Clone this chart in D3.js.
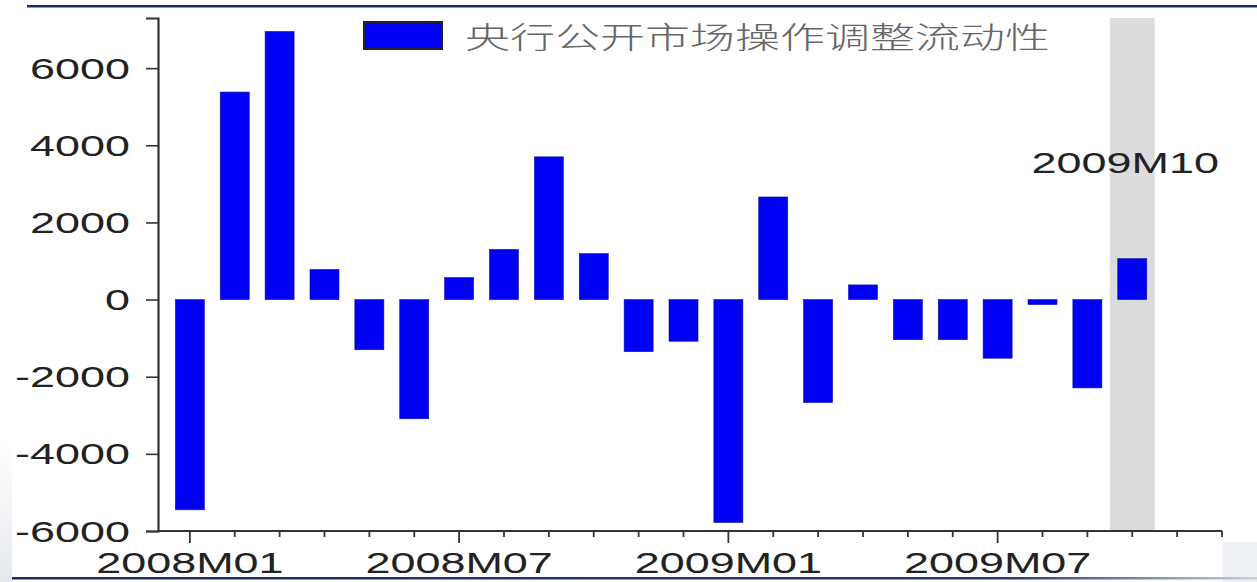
<!DOCTYPE html>
<html>
<head>
<meta charset="utf-8">
<script src="https://cdn.jsdelivr.net/npm/d3@7"></script>
<style>
  html, body { margin: 0; padding: 0; background: #ffffff; }
  svg { display: block; }
</style>
</head>
<body>
<svg id="chart" width="1257" height="582"></svg>
<script>
// Monthly liquidity adjusted through central-bank open market operations (亿元)
const months = ["2008M01","2008M02","2008M03","2008M04","2008M05","2008M06",
                "2008M07","2008M08","2008M09","2008M10","2008M11","2008M12",
                "2009M01","2009M02","2009M03","2009M04","2009M05","2009M06",
                "2009M07","2009M08","2009M09","2009M10"];
const values = [-5450, 5380, 6950, 780, -1300, -3090,
                570, 1300, 3700, 1190, -1350, -1080,
                -5780, 2660, -2670, 380, -1040, -1040,
                -1520, -130, -2290, 1060];
const yTicks = [-6000, -4000, -2000, 0, 2000, 4000, 6000];
const xTickLabels = ["2008M01", "2008M07", "2009M01", "2009M07"];
const seriesName = "央行公开市场操作调整流动性";
const highlightMonth = "2009M10";

const svg = d3.select("#chart");
const stretch = 1.55;           // wide lettering of the original figure
const latin = "'Liberation Sans', Arial, sans-serif";

// slide frame
const defs = svg.append("defs");
const side = defs.append("linearGradient").attr("id", "sideFade")
  .attr("x1", 0).attr("y1", 0).attr("x2", 0).attr("y2", 1);
side.append("stop").attr("offset", "0%").attr("stop-color", "#ffffff");
side.append("stop").attr("offset", "100%").attr("stop-color", "#e6e9ee");
svg.append("rect").attr("x", 0).attr("y", 440).attr("width", 12).attr("height", 142)
  .attr("fill", "url(#sideFade)");
svg.append("rect").attr("x", 1223).attr("y", 542).attr("width", 34).attr("height", 40)
  .attr("fill", "#eef0f4");
const grad = defs.append("linearGradient").attr("id", "frameLine");
grad.append("stop").attr("offset", "0%").attr("stop-color", "#10306a");
grad.append("stop").attr("offset", "80%").attr("stop-color", "#1c3c78");
grad.append("stop").attr("offset", "100%").attr("stop-color", "#c9d0dd");
svg.append("rect").attr("x", 27).attr("y", 5).attr("width", 1230).attr("height", 2.5)
  .attr("fill", "#10306a");
svg.append("rect").attr("x", 12).attr("y", 577).attr("width", 1245).attr("height", 2.5)
  .attr("fill", "url(#frameLine)");

// scales: month index on x, value on y
const x = d3.scaleLinear().domain([-0.71, 23]).range([158, 1222]);
const y = d3.scaleLinear().domain([-6000, 7300]).range([531, 18]);
const barW = 29;

// highlighted month band
const hi = months.indexOf(highlightMonth);
svg.append("rect")
  .attr("x", x(hi - 0.5)).attr("y", y(7300))
  .attr("width", x(hi + 0.5) - x(hi - 0.5))
  .attr("height", y(-6000) - y(7300))
  .attr("fill", "#dcdcdc");

// bars
svg.append("g").selectAll("rect").data(values).join("rect")
  .attr("x", (d, i) => x(i) - barW / 2)
  .attr("y", d => y(Math.max(0, d)))
  .attr("width", barW)
  .attr("height", d => Math.max(1.5, Math.abs(y(d) - y(0))))
  .attr("fill", "#0000f2")
  .attr("stroke", "#1010a0")
  .attr("stroke-width", 0.6);

// y axis
const yAxis = svg.append("g").attr("transform", `translate(${x(-0.71)},0)`)
  .call(d3.axisLeft(y).tickValues(yTicks).tickSize(12).tickFormat(d => String(d)));
yAxis.select(".domain").attr("stroke", "#333").attr("stroke-width", 2.2);
yAxis.selectAll(".tick line").attr("stroke", "#333").attr("stroke-width", 1.6);
yAxis.selectAll(".tick text").each(function () {
  const t = d3.select(this);
  t.attr("x", null).attr("dy", null)
   .attr("transform", `translate(-28,10) scale(${stretch},1)`)
   .attr("font-family", latin).attr("font-size", 29)
   .attr("fill", "#222").attr("text-anchor", "end");
});

// x axis: a tick for every month, longer ticks at the labelled months
const tickIdx = d3.range(0, 24);
const majorIdx = xTickLabels.map(m => months.indexOf(m));
const xAxis = svg.append("g").attr("transform", `translate(0,${y(-6000)})`);
xAxis.append("line").attr("x1", x(-0.71)).attr("x2", x(23))
  .attr("stroke", "#333").attr("stroke-width", 2.2);
xAxis.selectAll("line.tk").data(tickIdx).join("line").attr("class", "tk")
  .attr("x1", d => x(d)).attr("x2", d => x(d))
  .attr("y1", 0).attr("y2", d => majorIdx.includes(d) ? 12 : 6)
  .attr("stroke", "#333").attr("stroke-width", 1.8);
xAxis.selectAll("text").data(majorIdx).join("text")
  .attr("transform", d => `translate(${x(d)},42) scale(${stretch},1)`)
  .attr("text-anchor", "middle")
  .attr("font-family", latin).attr("font-size", 29).attr("fill", "#222")
  .text((d, i) => xTickLabels[i]);

// label for the highlighted month
svg.append("text")
  .attr("transform", `translate(${x(hi) - 7},173) scale(${stretch},1)`)
  .attr("text-anchor", "middle")
  .attr("font-family", latin).attr("font-size", 29).attr("fill", "#222")
  .text(highlightMonth);

// legend
svg.append("rect").attr("x", 364).attr("y", 22).attr("width", 78).attr("height", 27)
  .attr("fill", "#0000f2").attr("stroke", "#222").attr("stroke-width", 2);
svg.append("text")
  .attr("transform", `translate(465,48) scale(1.5,1)`)
  .attr("font-family", "'Noto Sans CJK SC', sans-serif").attr("font-weight", 300)
  .attr("font-size", 30).attr("fill", "#666")
  .text(seriesName);
</script>
</body>
</html>
